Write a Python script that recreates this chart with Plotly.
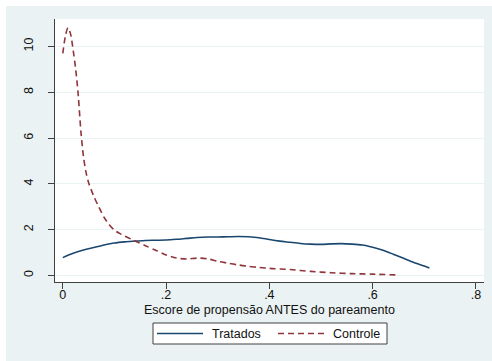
import plotly.graph_objects as go

# Kernel density estimates of the propensity score, before matching
x_tratados = [0.00, 0.02, 0.04, 0.06, 0.08, 0.10, 0.12, 0.14, 0.16, 0.18, 0.20, 0.22,
              0.24, 0.26, 0.28, 0.30, 0.32, 0.34, 0.36, 0.38, 0.40, 0.42, 0.44, 0.46,
              0.48, 0.50, 0.52, 0.54, 0.56, 0.58, 0.60, 0.62, 0.64, 0.66, 0.68, 0.70, 0.71]
y_tratados = [0.78, 0.97, 1.11, 1.22, 1.33, 1.42, 1.47, 1.50, 1.53, 1.54, 1.55, 1.58,
              1.62, 1.66, 1.68, 1.68, 1.69, 1.70, 1.69, 1.65, 1.57, 1.50, 1.45, 1.40,
              1.37, 1.36, 1.38, 1.39, 1.37, 1.33, 1.23, 1.10, 0.93, 0.75, 0.57, 0.41, 0.33]

x_controle = [0.000, 0.005, 0.010, 0.015, 0.020, 0.025, 0.030, 0.035, 0.040, 0.045,
              0.050, 0.060, 0.070, 0.080, 0.090, 0.100, 0.110, 0.120, 0.140, 0.160,
              0.180, 0.200, 0.220, 0.240, 0.260, 0.280, 0.300, 0.320, 0.340, 0.360,
              0.380, 0.400, 0.440, 0.480, 0.520, 0.560, 0.600, 0.650]
y_controle = [9.70, 10.45, 10.82, 10.55, 9.85, 9.00, 7.85, 6.30, 5.20, 4.50,
              4.05, 3.46, 2.98, 2.54, 2.22, 1.98, 1.84, 1.72, 1.51, 1.30,
              1.10, 0.90, 0.76, 0.72, 0.76, 0.73, 0.62, 0.54, 0.46, 0.40,
              0.35, 0.31, 0.26, 0.18, 0.12, 0.08, 0.06, 0.02]

x_ticks = [0, 0.2, 0.4, 0.6, 0.8]
x_tick_labels = ["0", ".2", ".4", ".6", ".8"]
y_ticks = [0, 2, 4, 6, 8, 10]
y_tick_labels = ["0", "2", "4", "6", "8", "10"]

series_names = ["Tratados", "Controle"]

FONT = "Liberation Sans, Arial, sans-serif"
FSIZE = 12.5
NAVY = "#1a476f"
MAROON = "#90353b"
BG = "#eaf2f3"
AXIS = "#404040"
TEXT = "#111111"
DASH = "6px,4px"

W, H = 492, 361
L, R, T, B = 55, 8, 19, 79
pw, ph = W - L - R, H - T - B


def px_x(p):
    """Horizontal pixel -> paper fraction of the plot area."""
    return (p - L) / pw


def px_y(p):
    """Vertical pixel (from top) -> paper fraction of the plot area."""
    return (T + ph - p) / ph


fig = go.Figure()
fig.add_trace(go.Scatter(x=x_tratados, y=y_tratados, mode="lines", name=series_names[0],
                         line=dict(color=NAVY, width=1.6, shape="spline", smoothing=0.8)))
fig.add_trace(go.Scatter(x=x_controle, y=y_controle, mode="lines", name=series_names[1],
                         line=dict(color=MAROON, width=1.6, dash=DASH,
                                   shape="spline", smoothing=0.8)))

# white margin strips around the graph region
fig.add_shape(type="rect", xref="paper", yref="paper", layer="below",
              x0=px_x(0), x1=px_x(6), y0=px_y(H), y1=px_y(0),
              fillcolor="white", line_width=0)
fig.add_shape(type="rect", xref="paper", yref="paper", layer="below",
              x0=px_x(0), x1=px_x(W), y0=px_y(6), y1=px_y(0),
              fillcolor="white", line_width=0)

# x-axis title
fig.add_annotation(text="Escore de propensão ANTES do pareamento",
                   xref="paper", yref="paper", x=0.5, y=px_y(309.5),
                   xanchor="center", yanchor="middle", showarrow=False,
                   font=dict(family=FONT, size=FSIZE, color=TEXT))

# legend box with key lines and labels
leg_y = px_y(333.5)
fig.add_shape(type="rect", xref="paper", yref="paper",
              x0=px_x(153), x1=px_x(387), y0=px_y(344), y1=px_y(323),
              fillcolor="white", line=dict(color=AXIS, width=1))
keys = [(157, 203, 210, NAVY, "solid"), (278, 325, 331, MAROON, DASH)]
for name, (lx0, lx1, tx, color, dash) in zip(series_names, keys):
    fig.add_shape(type="line", xref="paper", yref="paper",
                  x0=px_x(lx0), x1=px_x(lx1), y0=leg_y, y1=leg_y,
                  line=dict(color=color, width=1.6, dash=dash))
    fig.add_annotation(text=name, xref="paper", yref="paper", x=px_x(tx), y=leg_y,
                       xanchor="left", yanchor="middle", showarrow=False,
                       font=dict(family=FONT, size=FSIZE, color=TEXT))

fig.update_layout(
    width=W, height=H,
    margin=dict(l=L, r=R, t=T, b=B),
    paper_bgcolor=BG,
    plot_bgcolor="white",
    font=dict(family=FONT, size=FSIZE, color=TEXT),
    showlegend=False,
    xaxis=dict(range=[-0.0151, 0.8157], tickvals=x_ticks, ticktext=x_tick_labels,
               showgrid=False, zeroline=False, showline=True, linecolor=AXIS,
               linewidth=1.2, ticks="outside", ticklen=6, tickcolor=AXIS,
               tickwidth=1.2, ticklabelstandoff=-5, tickfont=dict(size=FSIZE)),
    yaxis=dict(range=[-0.284, 11.2], tickvals=y_ticks, ticktext=y_tick_labels,
               showgrid=True, gridcolor=BG, gridwidth=1, zeroline=False,
               showline=True, linecolor=AXIS, linewidth=1.2, ticks="outside",
               ticklen=6, tickcolor=AXIS, tickwidth=1.2, tickangle=-90,
               ticklabelstandoff=10, tickfont=dict(size=FSIZE)),
)

fig.write_html("out.html")
